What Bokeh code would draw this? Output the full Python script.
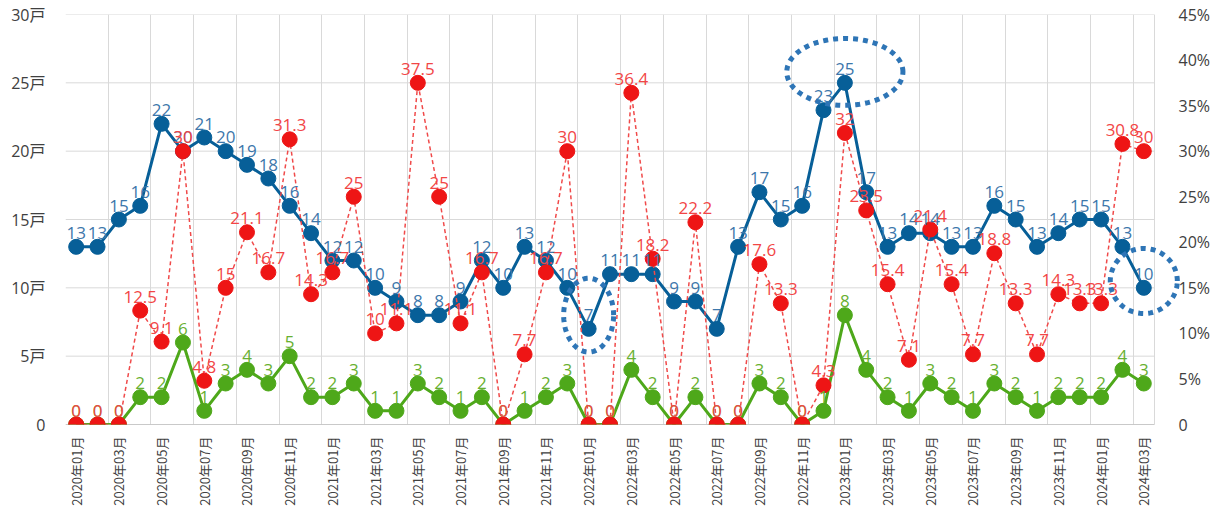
import numpy as np
from bokeh.plotting import figure
from bokeh.models import (ColumnDataSource, Range1d, LinearAxis, FixedTicker,
                          PolyAnnotation)
from bokeh.core.properties import value
from bokeh.embed import file_html
from bokeh.resources import INLINE

# ---------------- data ----------------
months = []
for y in range(2020, 2025):
    for m in range(1, 13):
        if y == 2024 and m > 3:
            break
        months.append(f"{y}年{m:02d}月")

total = [13, 13, 15, 16, 22, 20, 21, 20, 19, 18, 16, 14,
         12, 12, 10, 9, 8, 8, 9, 12, 10, 13, 12, 10,
         7, 11, 11, 11, 9, 9, 7, 13, 17, 15, 16, 23,
         25, 17, 13, 14, 14, 13, 13, 16, 15, 13, 14, 15,
         15, 13, 10]
sub = [0, 0, 0, 2, 2, 6, 1, 3, 4, 3, 5, 2,
       2, 3, 1, 1, 3, 2, 1, 2, 0, 1, 2, 3,
       0, 0, 4, 2, 0, 2, 0, 0, 3, 2, 0, 1,
       8, 4, 2, 1, 3, 2, 1, 3, 2, 1, 2, 2,
       2, 4, 3]
pct = [0, 0, 0, 12.5, 9.1, 30, 4.8, 15, 21.1, 16.7, 31.3, 14.3,
       16.7, 25, 10, 11.1, 37.5, 25, 11.1, 16.7, 0, 7.7, 16.7, 30,
       0, 0, 36.4, 18.2, 0, 22.2, 0, 0, 17.6, 13.3, 0, 4.3,
       32, 23.5, 15.4, 7.1, 21.4, 15.4, 7.7, 18.8, 13.3, 7.7, 14.3, 13.3,
       13.3, 30.8, 30]

left_ticks = [0, 5, 10, 15, 20, 25, 30]
right_ticks = [0, 5, 10, 15, 20, 25, 30, 35, 40, 45]

# highlighted months (dotted ellipses): (month label, y-shift, semi-x, semi-y)
highlights = [("2022年01月", 1.0, 1.17, 2.7),
              ("2023年01月", 0.8, 2.72, 2.45),
              ("2024年03月", 0.5, 1.57, 2.38)]

# ---------------- figure ----------------
n = len(months)
x = list(range(n))
src = ColumnDataSource(dict(
    x=x, total=total, sub=sub, pct=pct,
    total_lbl=[str(v) for v in total],
    sub_lbl=[str(v) for v in sub],
    pct_lbl=[f"{v:g}" for v in pct],
))

FONT = "'Open Sans', 'Noto Sans CJK JP'"
GRID = "#d9d9d9"

x_lo, x_hi = -0.5, n - 0.5
# frame extends a little past the last category so that the
# highlight ellipse round the last point is not clipped
x_extra = 1.5

p = figure(frame_width=1121, frame_height=410, output_backend="svg",
           toolbar_location=None,
           x_range=Range1d(x_lo, x_hi + x_extra), y_range=Range1d(0, 30),
           min_border_left=65, min_border_right=19, min_border_top=14,
           min_border_bottom=80)
p.background_fill_color = "white"
p.border_fill_color = "white"
p.outline_line_color = None
p.extra_y_ranges = {"pct": Range1d(0, 45)}

# grids
p.xgrid.ticker = FixedTicker(ticks=[x_lo] + [i + 1.5 for i in range(0, n - 1, 2)] + [x_hi])
p.xgrid.grid_line_color = GRID
p.ygrid.grid_line_color = None
p.segment(x0=[x_lo] * len(left_ticks), x1=[x_hi] * len(left_ticks),
          y0=left_ticks, y1=left_ticks, line_color=GRID, line_width=1)
p.segment(x0=[x_lo], x1=[x_hi], y0=[0], y1=[0], line_color="#a6a6a6", line_width=1)

# x axis
xa = p.xaxis[0]
xa.ticker = FixedTicker(ticks=list(range(0, n, 2)))
xa.major_label_overrides = {i: months[i] for i in range(0, n, 2)}
xa.major_label_orientation = np.pi / 2
xa.major_label_text_font_size = "13px"
xa.major_label_text_font = "Noto Sans CJK JP"
xa.major_label_text_color = "#404040"
xa.major_tick_line_color = None
xa.minor_tick_line_color = None
xa.axis_line_color = None
xa.major_label_standoff = 6

# left axis
ya = p.yaxis[0]
ya.ticker = FixedTicker(ticks=left_ticks)
ya.major_label_overrides = {t: ("0" if t == 0 else f"{t}戸") for t in left_ticks}
ya.major_label_text_font_size = "16px"
ya.major_label_text_font = FONT
ya.major_label_text_color = "#404040"
ya.major_tick_line_color = None
ya.minor_tick_line_color = None
ya.axis_line_color = None
ya.major_label_standoff = 14

# right axis
ra = LinearAxis(y_range_name="pct", ticker=FixedTicker(ticks=right_ticks))
ra.major_label_overrides = {t: ("0" if t == 0 else f"{t}%") for t in right_ticks}
ra.major_label_text_font_size = "16px"
ra.major_label_text_font = FONT
ra.major_label_text_color = "#404040"
ra.major_tick_line_color = None
ra.minor_tick_line_color = None
ra.axis_line_color = None
ra.major_label_standoff = -14
p.add_layout(ra, "right")

BLUE, BLUE_T = "#075f98", "#3d77ab"
GREEN, GREEN_T = "#4ea81a", "#68b030"
RED, RED_L, RED_T = "#ee1515", "#f04a4a", "#f24646"

# green series
p.line("x", "sub", source=src, color=GREEN, line_width=3)
p.scatter("x", "sub", source=src, size=15, color=GREEN)
# blue series
p.line("x", "total", source=src, color=BLUE, line_width=3)
p.scatter("x", "total", source=src, size=15, color=BLUE)
# red series
p.line("x", "pct", source=src, color=RED_L, line_width=1.5, line_dash="4 3",
       y_range_name="pct")
p.scatter("x", "pct", source=src, size=15, color=RED, y_range_name="pct")

# labels
common = dict(text_align="center", text_baseline="middle",
              text_font=value("Open Sans"), text_font_size="17px", y_offset=-14)
p.text("x", "sub", text="sub_lbl", source=src, text_color=GREEN_T, **common)
p.text("x", "total", text="total_lbl", source=src, text_color=BLUE_T, **common)
p.text("x", "pct", text="pct_lbl", source=src, text_color=RED_T,
       y_range_name="pct", **common)

# dotted highlight ellipses
th = np.linspace(0, 2 * np.pi, 120)
for lbl, dy, ax_, ay_ in highlights:
    i = months.index(lbl)
    cx, cy = i, total[i] + dy
    p.add_layout(PolyAnnotation(xs=list(cx + ax_ * np.cos(th)),
                                ys=list(cy + ay_ * np.sin(th)),
                                fill_color=None, fill_alpha=0,
                                line_color="#2e75b6", line_alpha=1.0,
                                line_width=5, line_dash="5 5"))

open("out.html", "w").write(file_html(p, INLINE))
